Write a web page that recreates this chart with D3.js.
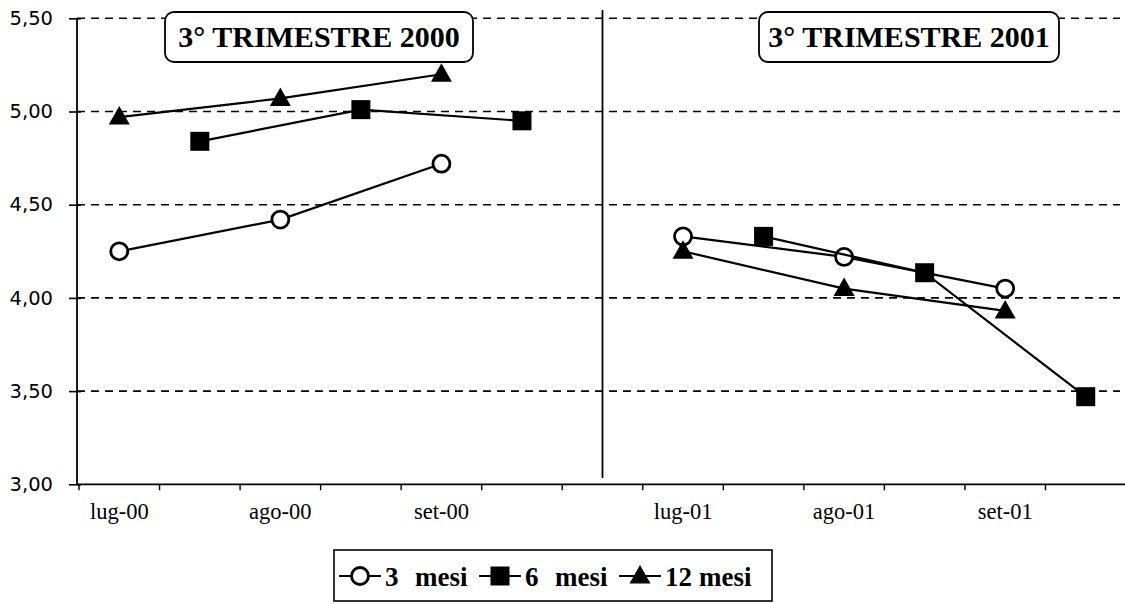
<!DOCTYPE html>
<html><head><meta charset="utf-8">
<script src="https://cdn.jsdelivr.net/npm/d3@7"></script>
<style>
html,body{margin:0;padding:0;background:#fff;}
svg{display:block;}
</style></head>
<body>
<svg id="chart" width="1125" height="604"></svg>
<script>
const categories = ["lug-00","","ago-00","","set-00","","","lug-01","","ago-01","","set-01",""];
const mesi3  = [4.25,null,4.42,null,4.72,null,null,4.33,null,4.22,null,4.05,null];
const mesi6  = [null,4.84,null,5.01,null,4.95,null,null,4.33,null,4.135,null,3.47];
const mesi12 = [4.97,null,5.07,null,5.20,null,null,4.25,null,4.05,null,3.93,null];
const yTicks = [3.0,3.5,4.0,4.5,5.0,5.5];
const panelTitles = ["3° TRIMESTRE 2000","3° TRIMESTRE 2001"];
const seriesNumbers = ["3","6","12"];
const seriesUnit = "mesi";
const dividerIndex = 6;

(function(){
const svg = d3.select("#chart");
const pL = 77, pR = 1126, pT = 18.3, pB = 484.3;
const serif = "'Liberation Serif','Times New Roman',serif";
const sans = "'DejaVu Sans','Liberation Sans',Arial,sans-serif";

const x = d3.scaleBand().domain(d3.range(categories.length)).range([pL + 2, pR]).padding(0);
const y = d3.scaleLinear().domain([3, 5.5]).range([pB, pT]);
const cx = i => x(i) + x.bandwidth()/2;

// gridlines
svg.append("g").selectAll("line").data(yTicks.filter(v => v > 3)).join("line")
  .attr("x1", pL).attr("x2", 1120).attr("y1", d => y(d)).attr("y2", d => y(d))
  .attr("stroke", "#000").attr("stroke-width", 1.6).attr("stroke-dasharray", "8,6");

// y axis
const yAxis = d3.axisLeft(y).tickValues(yTicks).tickSize(7).tickPadding(17)
  .tickFormat(d => d3.format(".2f")(d).replace(".", ","));
const gy = svg.append("g").attr("transform", `translate(${pL},0)`).call(yAxis);
gy.select(".domain").attr("stroke", "#000").attr("stroke-width", 1.8).attr("d", `M0,${pT}V${pB}`);
gy.selectAll(".tick line").attr("stroke", "#000").attr("stroke-width", 1.6).attr("x2", -8).attr("x1", 4);
gy.selectAll(".tick text").attr("font-family", sans).attr("font-size", 19.5).attr("fill", "#000");

// x axis line & ticks at band edges
svg.append("line").attr("x1", pL).attr("x2", 1125).attr("y1", pB).attr("y2", pB)
  .attr("stroke", "#000").attr("stroke-width", 1.8);
svg.append("g").selectAll("line").data(d3.range(categories.length)).join("line")
  .attr("x1", d => x(d)).attr("x2", d => x(d)).attr("y1", pB).attr("y2", pB + 6)
  .attr("stroke", "#000").attr("stroke-width", 1.4);
svg.append("g").selectAll("text").data(categories.map((c, i) => ({c, i})).filter(d => d.c)).join("text")
  .attr("x", d => cx(d.i)).attr("y", 519).attr("text-anchor", "middle")
  .attr("font-family", serif).attr("font-size", 22.5).attr("fill", "#000").text(d => d.c);

// divider
svg.append("line").attr("x1", cx(dividerIndex)).attr("x2", cx(dividerIndex)).attr("y1", 10).attr("y2", 478)
  .attr("stroke", "#000").attr("stroke-width", 1.8);

// titles
const titleBoxes = [{t: panelTitles[0], x0: 165, x1: 473}, {t: panelTitles[1], x0: 759, x1: 1059}];
titleBoxes.forEach(b => {
  svg.append("rect").attr("x", b.x0).attr("y", 12).attr("width", b.x1 - b.x0).attr("height", 50)
    .attr("rx", 9).attr("fill", "#fff").attr("stroke", "#000").attr("stroke-width", 1.8);
  svg.append("text").attr("x", (b.x0 + b.x1)/2).attr("y", 47).attr("text-anchor", "middle")
    .attr("font-family", serif).attr("font-weight", "bold").attr("font-size", 30).attr("fill", "#000").text(b.t);
});

// series
const series = [mesi3, mesi6, mesi12];
const markerTypes = ["circle", "square", "triangle"];
function drawMarker(g, type, px, py) {
  if (type === "circle") {
    g.append("circle").attr("cx", px).attr("cy", py).attr("r", 8.5)
      .attr("fill", "#fff").attr("stroke", "#000").attr("stroke-width", 2.8);
  } else if (type === "square") {
    g.append("rect").attr("x", px - 9.5).attr("y", py - 9.5).attr("width", 19).attr("height", 19).attr("fill", "#000");
  } else {
    g.append("path").attr("d", `M${px},${py-11}L${px+10.5},${py+7.5}L${px-10.5},${py+7.5}Z`).attr("fill", "#000");
  }
}
const line = d3.line().x(d => cx(d.i)).y(d => y(d.v));
series.forEach((s, k) => {
  const pts = s.map((v, i) => ({v, i})).filter(d => d.v != null);
  const g = svg.append("g");
  [pts.filter(d => d.i < dividerIndex), pts.filter(d => d.i > dividerIndex)].forEach(p => {
    g.append("path").attr("d", line(p)).attr("fill", "none").attr("stroke", "#000").attr("stroke-width", 2.2);
  });
  pts.forEach(d => drawMarker(g, markerTypes[k], cx(d.i), y(d.v)));
});

// legend
svg.append("rect").attr("x", 334).attr("y", 550).attr("width", 438).attr("height", 51)
  .attr("fill", "#fff").attr("stroke", "#000").attr("stroke-width", 1.6);
const legX = [339, 479, 619];
const unitOffset = [76, 76, 80];
seriesNumbers.forEach((n, k) => {
  const g = svg.append("g");
  g.append("line").attr("x1", legX[k]).attr("x2", legX[k] + 42).attr("y1", 576).attr("y2", 576)
    .attr("stroke", "#000").attr("stroke-width", 2.2);
  drawMarker(g, markerTypes[k], legX[k] + 21, 576);
  g.append("text").attr("x", legX[k] + 46).attr("y", 586).attr("font-family", serif).attr("font-weight", "bold")
    .attr("font-size", 27).attr("fill", "#000").text(n);
  g.append("text").attr("x", legX[k] + unitOffset[k]).attr("y", 586).attr("font-family", serif).attr("font-weight", "bold")
    .attr("font-size", 27).attr("fill", "#000").text(seriesUnit);
});
})();
</script>
</body></html>
